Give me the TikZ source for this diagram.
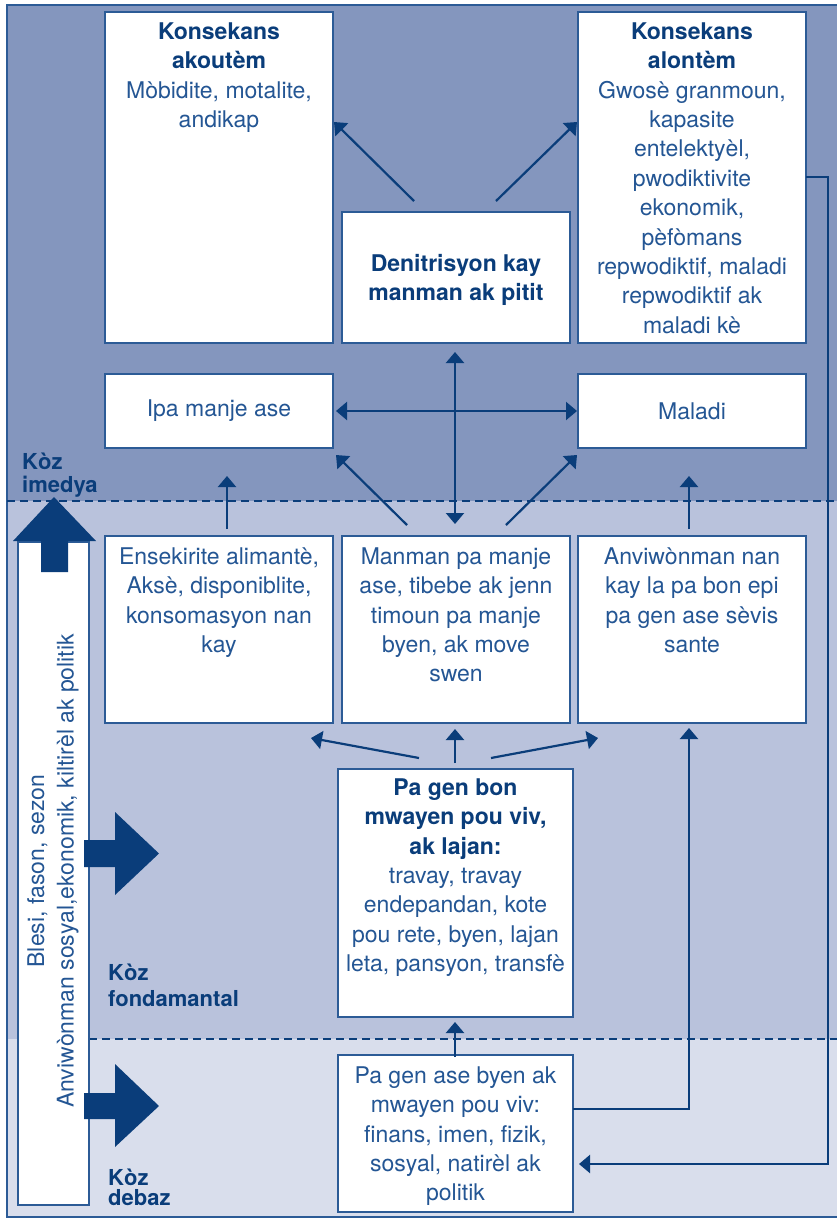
\documentclass[tikz,border=0pt]{standalone}
\usepackage{fontspec}
\setmainfont{TeX Gyre Heros}
\usetikzlibrary{arrows.meta,calc}
\definecolor{navy}{HTML}{0A3D7A}
\definecolor{tblue}{HTML}{245694}
\definecolor{bord}{HTML}{2C5B96}
\definecolor{bandA}{HTML}{8496BE}
\definecolor{bandB}{HTML}{B9C2DC}
\definecolor{bandC}{HTML}{D9DEEC}
\newcommand{\fl}{\rule{0pt}{18pt}}
\newcommand{\hd}[1]{\textcolor{navy}{\bfseries #1}}
\begin{document}
\begin{tikzpicture}[x=1pt,y=-1pt,
 box/.style={draw=bord, line width=1.3pt, fill=white, anchor=north west, inner sep=0pt, outer sep=0pt},
 txt/.style={font=\fontsize{23}{29.4}\selectfont, text=tblue, align=center, inner sep=0pt, anchor=north},
 arr/.style={draw=navy, line width=2.2pt, -{Triangle[length=11pt,width=18pt]}},
 darr/.style={draw=navy, line width=2.2pt, {Triangle[length=11pt,width=18pt]}-{Triangle[length=11pt,width=18pt]}},
 lbl/.style={text=navy, align=left, inner sep=0pt, anchor=north west},
 dline/.style={draw=navy, line width=2.2pt, dash pattern=on 8pt off 5pt},
 bigarr/.style={fill=navy, draw=none}
 ]
\useasboundingbox (0,0) rectangle (837,1219);
% bands
\fill[bandA] (7,5) rectangle (845,501);
\fill[bandB] (7,501) rectangle (845,1039);
\fill[bandC] (7,1039) rectangle (845,1217);
\draw[bord, line width=1.3pt] (7,5) rectangle (845,1217);
\draw[dline] (7,501) -- (845,501);
\draw[dline] (89,1039) -- (845,1039);
% side bar
\node[box, minimum width=71pt, minimum height=663pt] (bar) at (18,542) {};
\node[rotate=90, font=\fontsize{23}{29.4}\selectfont, text=tblue, align=center, inner sep=0pt] (bartxt) at (53,871) {Blesi, fason, sezon\\Anviwònman sosyal,ekonomik, kiltirèl ak politik};
\fill[bigarr] (13,541) -- (54,497) -- (96,541) -- (68,541) -- (68,572) -- (41,572) -- (41,541) -- cycle;
\fill[bigarr] (84,840) -- (115,840) -- (115,812) -- (159,853.5) -- (115,895) -- (115,867) -- (84,867) -- cycle;
\fill[bigarr] (84,1093) -- (115,1093) -- (115,1064) -- (159,1106) -- (115,1147) -- (115,1119) -- (84,1119) -- cycle;
% labels
\node[lbl, font=\fontsize{22}{23}\selectfont\bfseries] (l1) at (22,452) {\rule{0pt}{17pt}Kòz\\imedya};
\node[lbl, font=\fontsize{22}{26}\selectfont\bfseries] (l2) at (108,963) {\rule{0pt}{17pt}Kòz\\fondamantal};
\node[lbl, font=\fontsize{22}{20.5}\selectfont\bfseries] (l3) at (108,1168) {\rule{0pt}{17pt}Kòz\\debaz};
% boxes
\node[box, minimum width=228pt, minimum height=331pt] (A) at (105,12) {};
\node[box, minimum width=228pt, minimum height=331pt] (B) at (578,12) {};
\node[box, minimum width=228pt, minimum height=131pt] (C) at (342,212) {};
\node[box, minimum width=228pt, minimum height=74pt] (D) at (105,374) {};
\node[box, minimum width=228pt, minimum height=74pt] (E) at (578,374) {};
\node[box, minimum width=228pt, minimum height=187pt] (F) at (105,536) {};
\node[box, minimum width=228pt, minimum height=187pt] (G) at (342,536) {};
\node[box, minimum width=228pt, minimum height=187pt] (H) at (578,536) {};
\node[box, minimum width=235pt, minimum height=248pt] (I) at (338,769) {};
\node[box, minimum width=235pt, minimum height=157pt] (J) at (338,1055) {};
% texts
\node[txt] (tA) at (219,21) {\fl\hd{Konsekans}\\\hd{akoutèm}\\Mòbidite, motalite,\\andikap};
\node[txt] (tB) at (692,21) {\fl\hd{Konsekans}\\\hd{alontèm}\\Gwosè granmoun,\\kapasite\\entelektyèl,\\pwodiktivite\\ekonomik,\\pèfòmans\\repwodiktif, maladi\\repwodiktif ak\\maladi kè};
\node[txt] (tC) at (456,253) {\fl\hd{Denitrisyon kay}\\\hd{manman ak pitit}};
\node[txt, anchor=center] (tD) at (219,411) {Ipa manje ase};
\node[txt, anchor=center] (tE) at (692,411) {Maladi};
\node[txt] (tF) at (219,546) {\fl Ensekirite alimantè,\\Aksè, disponiblite,\\konsomasyon nan\\kay};
\node[txt] (tG) at (456,546) {\fl Manman pa manje\\ase, tibebe ak jenn\\timoun pa manje\\byen, ak move\\swen};
\node[txt] (tH) at (692,546) {\fl Anviwònman nan\\kay la pa bon epi\\pa gen ase sèvis\\sante};
\node[txt] (tI) at (455.5,777) {\fl\hd{Pa gen bon}\\\hd{mwayen pou viv,}\\\hd{ak lajan:}\\travay, travay\\endepandan, kote\\pou rete, byen, lajan\\leta, pansyon, transfè};
\node[txt] (tJ) at (455.5,1065) {\fl Pa gen ase byen ak\\mwayen pou viv:\\finans, imen, fizik,\\sosyal, natirèl ak\\politik};
% connector end points
\coordinate (c1) at (414,201); \coordinate (c1t) at (334,122);
\coordinate (c2) at (496,201); \coordinate (c2t) at (577,122);
\coordinate (c3) at (455,352); \coordinate (c3t) at (455,524);
\coordinate (c4) at (336,411); \coordinate (c4t) at (577,411);
\coordinate (c5) at (407,525); \coordinate (c5t) at (336,455);
\coordinate (c6) at (506,525); \coordinate (c6t) at (577,455);
\coordinate (c7) at (227,529); \coordinate (c7t) at (227,476);
\coordinate (c8) at (689,529); \coordinate (c8t) at (689,476);
\coordinate (c9) at (455,763); \coordinate (c9t) at (455,729);
\coordinate (c10) at (419,758); \coordinate (c10t) at (311,738);
\coordinate (c11) at (491,758); \coordinate (c11t) at (598,738);
\coordinate (c12) at (455,1057); \coordinate (c12t) at (455,1022);
\coordinate (c13) at (573,1109); \coordinate (c13t) at (689,728);
\coordinate (c14) at (806,177); \coordinate (c14t) at (579,1164);
\draw[arr] (c1) -- (c1t);
\draw[arr] (c2) -- (c2t);
\draw[darr] (c3) -- (c3t);
\draw[darr] (c4) -- (c4t);
\draw[arr] (c5) -- (c5t);
\draw[arr] (c6) -- (c6t);
\draw[arr] (c7) -- (c7t);
\draw[arr] (c8) -- (c8t);
\draw[arr] (c9) -- (c9t);
\draw[arr] (c10) -- (c10t);
\draw[arr] (c11) -- (c11t);
\draw[arr] (c12) -- (c12t);
\draw[arr] (c13) -| (c13t);
\draw[arr] (c14) -- (828,177) |- (c14t);
\end{tikzpicture}
\end{document}
